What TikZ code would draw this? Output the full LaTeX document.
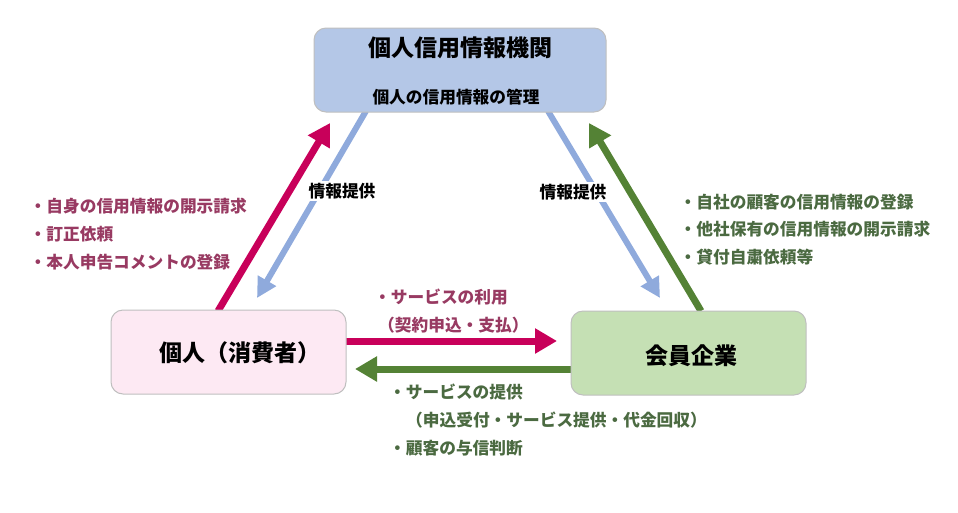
\documentclass[tikz,border=0pt]{standalone}
\usepackage{fontspec}
\setmainfont{Noto Sans CJK JP}
\usetikzlibrary{arrows.meta}
\definecolor{magA}{HTML}{C8005A}
\definecolor{grnA}{HTML}{548235}
\definecolor{bluA}{HTML}{8FAADC}
\definecolor{pinkT}{HTML}{983A62}
\definecolor{grnT}{HTML}{4B6A41}
\definecolor{topF}{HTML}{B4C7E7}
\definecolor{leftF}{HTML}{FDE9F3}
\definecolor{rightF}{HTML}{C5E0B4}
\definecolor{bordC}{HTML}{BFBFBF}
\tikzset{
  ent/.style={draw=bordC, line width=1pt, rounded corners=12pt, inner sep=0pt},
  bigtxt/.style={font=\bfseries\fontsize{23}{26}\selectfont, inner sep=0pt},
  midtxt/.style={font=\bfseries\fontsize{16.7}{19}\selectfont, inner sep=0pt},
  lst/.style={font=\bfseries\fontsize{16.7}{19}\selectfont, inner sep=0pt, anchor=west},
  fat/.style={line width=7pt, -{Triangle[width=24pt,length=22pt]}},
  thin/.style={line width=6pt, -{Triangle[width=20pt,length=20pt]}},
  lbl/.style={font=\bfseries\fontsize{16.7}{19}\selectfont, fill=white, inner sep=2pt}
}
\begin{document}
\begin{tikzpicture}[x=1pt,y=-1pt]
\useasboundingbox (0,0) rectangle (958,512);
% arrow end points
\coordinate (ms) at (218,311);
\coordinate (me) at (330,123);
\coordinate (bls) at (366,111);
\coordinate (ble) at (257,298);
\coordinate (brs) at (548,111);
\coordinate (bre) at (660,298);
\coordinate (gs) at (701,311);
\coordinate (ge) at (589,123);
\coordinate (hms) at (345,341);
\coordinate (hme) at (557,341);
\coordinate (hgs) at (572,369);
\coordinate (hge) at (355,369);
% arrows
\draw[fat, magA] (ms) -- (me);
\draw[thin, bluA] (bls) -- (ble);
\draw[thin, bluA] (brs) -- (bre);
\draw[fat, grnA] (gs) -- (ge);
\draw[fat, magA] (hms) -- (hme);
\draw[fat, grnA] (hgs) -- (hge);
% boxes
\node[ent, fill=topF, minimum width=292pt, minimum height=84pt] (org) at (460,70) {};
\node[ent, fill=leftF, minimum width=235pt, minimum height=84pt] (per) at (228.5,352) {};
\node[ent, fill=rightF, minimum width=235pt, minimum height=84pt] (mem) at (688.5,353) {};
\node[bigtxt] (orgT) at (460,48) {個人信用情報機関};
\node[midtxt] (orgS) at (456,97) {個人の信用情報の管理};
\node[bigtxt] (perT) at (240,353) {個人（消費者）};
\node[bigtxt] (memT) at (691,356) {会員企業};
% labels on blue arrows
\node[lbl] (infL) at (342,191) {情報提供};
\node[lbl] (infR) at (573,192) {情報提供};
% left list
\node[lst, pinkT] (l1) at (29.5,206) {・自身の信用情報の開示請求};
\node[lst, pinkT] (l2) at (29.5,234) {・訂正依頼};
\node[lst, pinkT] (l3) at (29.5,262) {・本人申告コメントの登録};
% right list
\node[lst, grnT] (r1) at (679.5,202) {・自社の顧客の信用情報の登録};
\node[lst, grnT] (r2) at (679.5,229) {・他社保有の信用情報の開示請求};
\node[lst, grnT] (r3) at (679.5,257) {・貸付自粛依頼等};
% middle top
\node[lst, pinkT] (t1) at (374,297) {・サービスの利用};
\node[lst, pinkT] (t2) at (378,325) {（契約申込・支払）};
% middle bottom
\node[lst, grnT] (b1) at (389,392) {・サービスの提供};
\node[lst, grnT] (b2) at (406,420) {（申込受付・サービス提供・代金回収）};
\node[lst, grnT] (b3) at (389,448) {・顧客の与信判断};
\end{tikzpicture}
\end{document}
